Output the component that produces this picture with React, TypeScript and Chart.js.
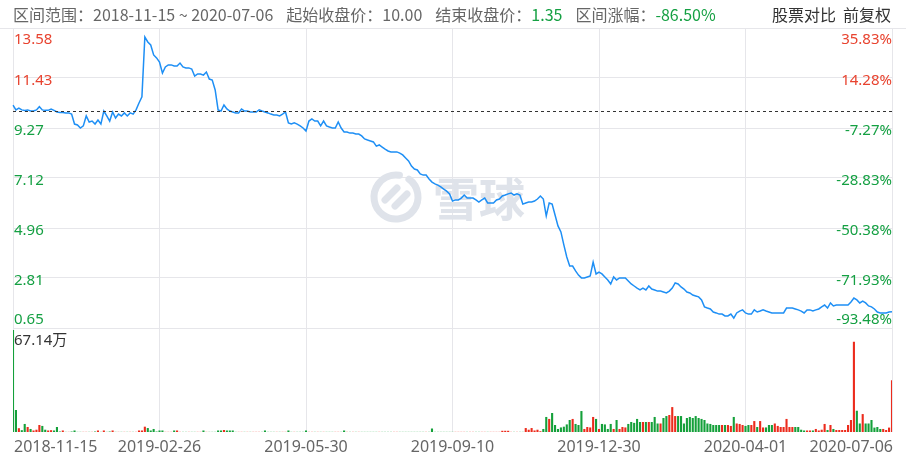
import React, { useEffect, useRef } from 'react';
import { Chart, registerables } from 'chart.js';

Chart.register(...registerables);

const tickDates = ['2018-11-15', '2019-02-26', '2019-05-30', '2019-09-10', '2019-12-30', '2020-04-01', '2020-07-06'];
const priceTickLabels = ['13.58', '11.43', '9.27', '7.12', '4.96', '2.81', '0.65'];
const pctTickLabels = ['35.83%', '14.28%', '-7.27%', '-28.83%', '-50.38%', '-71.93%', '-93.48%'];

const closePrices = [
  10.26, 10.05, 10.13, 10.05, 10.03, 10.05, 10.00, 10.00, 10.05, 10.19,
  10.05, 10.03, 10.03, 10.09, 10.03, 9.96, 9.94, 9.94, 9.92, 9.92,
  9.87, 9.44, 9.40, 9.27, 9.36, 9.79, 9.53, 9.57, 9.44, 9.61,
  9.44, 10.00, 9.79, 9.57, 9.96, 9.70, 9.87, 9.79, 9.92, 9.79,
  9.92, 9.87, 10.05, 10.35, 10.61, 13.19, 12.98, 12.85, 12.42, 12.29,
  12.11, 11.64, 11.90, 11.99, 11.99, 11.94, 11.94, 12.07, 11.90, 11.86,
  11.86, 11.81, 11.51, 11.60, 11.60, 11.55, 11.68, 11.38, 11.34, 10.91,
  10.05, 10.00, 10.26, 10.09, 10.00, 9.96, 9.92, 9.92, 10.09, 10.00,
  10.00, 9.96, 9.96, 9.96, 10.05, 10.00, 9.96, 9.92, 9.87, 9.83,
  9.83, 9.79, 9.87, 9.96, 9.49, 9.44, 9.49, 9.44, 9.36, 9.27,
  9.14, 9.57, 9.66, 9.57, 9.57, 9.36, 9.57, 9.36, 9.31, 9.27,
  9.27, 9.53, 9.27, 9.10, 9.10, 9.05, 9.05, 9.01, 9.01, 8.93,
  8.80, 8.75, 8.71, 8.67, 8.49, 8.54, 8.45, 8.36, 8.28, 8.24,
  8.24, 8.24, 8.19, 8.11, 7.98, 7.85, 7.63, 7.50, 7.46, 7.29,
  7.24, 7.24, 7.07, 6.94, 6.86, 6.81, 6.73, 6.64, 6.55, 6.43,
  6.12, 6.17, 6.17, 6.25, 6.38, 6.25, 6.25, 6.25, 6.17, 6.08,
  6.17, 6.25, 6.04, 6.04, 6.04, 6.17, 6.21, 6.34, 6.38, 6.43,
  6.47, 6.38, 6.43, 6.38, 5.99, 6.04, 6.08, 6.08, 6.12, 6.21,
  6.34, 6.21, 5.48, 6.04, 5.99, 5.52, 5.05, 4.79, 4.23, 3.71,
  3.32, 3.32, 3.11, 2.93, 2.81, 2.81, 2.85, 2.89, 3.49, 2.98,
  3.06, 2.98, 2.85, 2.72, 2.55, 2.85, 2.72, 2.81, 2.81, 2.81,
  2.68, 2.55, 2.46, 2.37, 2.29, 2.37, 2.29, 2.46, 2.33, 2.29,
  2.24, 2.24, 2.20, 2.16, 2.24, 2.37, 2.59, 2.55, 2.42, 2.33,
  2.20, 2.16, 2.07, 2.03, 1.99, 1.86, 1.56, 1.51, 1.47, 1.34,
  1.30, 1.25, 1.25, 1.17, 1.17, 1.25, 1.08, 1.30, 1.38, 1.43,
  1.30, 1.25, 1.25, 1.43, 1.34, 1.38, 1.43, 1.38, 1.34, 1.30,
  1.30, 1.30, 1.30, 1.30, 1.51, 1.51, 1.51, 1.47, 1.43, 1.38,
  1.30, 1.43, 1.43, 1.38, 1.43, 1.47, 1.56, 1.64, 1.51, 1.73,
  1.60, 1.64, 1.64, 1.64, 1.64, 1.64, 1.77, 1.94, 1.86, 1.73,
  1.81, 1.73, 1.60, 1.56, 1.47, 1.34, 1.30, 1.30, 1.30, 1.34,
  1.35,
];

// 成交量（万股）
const volumes = [
  67.14, 14.5, 2.5, 1.2, 5.3, 3.3, 2.0, 1.0, 1.5, 4.6,
  4.0, 1.5, 1.0, 1.2, 1.0, 3.3, 0.3, 1.0, 0.1, 0.1,
  0.3, 1.0, 0.1, 0.1, 0.1, 0.1, 0.1, 0.1, 0.3, 1.0,
  0.1, 1.0, 0.1, 0.3, 1.0, 0.1, 0.1, 0.1, 0.1, 0.1,
  0.1, 0.1, 0.1, 1.0, 1.0, 3.5, 2.6, 1.0, 2.0, 0.3,
  1.0, 1.0, 0.1, 0.1, 0.1, 1.0, 1.0, 0.1, 0.1, 0.1,
  0.1, 0.1, 0.1, 0.1, 0.1, 1.0, 0.1, 0.1, 0.1, 0.1,
  1.0, 1.0, 1.3, 1.0, 1.0, 1.0, 0.1, 0.1, 0.1, 0.1,
  0.1, 0.1, 0.1, 0.1, 0.1, 0.1, 1.0, 0.1, 0.1, 0.1,
  0.1, 0.1, 0.1, 0.1, 1.0, 0.1, 0.1, 0.1, 0.1, 0.1,
  1.0, 0.1, 0.1, 0.1, 0.1, 0.1, 0.1, 0.1, 0.1, 0.1,
  0.1, 0.1, 0.1, 1.0, 0.1, 0.1, 0.1, 0.1, 0.1, 0.1,
  0.1, 0.1, 0.1, 0.1, 0.1, 0.1, 0.1, 0.1, 0.1, 0.1,
  0.1, 0.1, 0.1, 0.1, 0.1, 0.1, 0.1, 0.1, 0.1, 0.1,
  0.1, 0.1, 0.1, 2.3, 0.1, 0.1, 0.1, 0.1, 0.1, 0.1,
  0.1, 0.1, 0.1, 0.1, 0.1, 0.1, 0.1, 0.1, 0.1, 0.1,
  0.1, 0.1, 0.1, 0.1, 0.1, 0.1, 0.1, 0.8, 0.8, 0.8,
  0.1, 0.1, 0.1, 0.1, 0.1, 2.6, 1.5, 2.6, 1.0, 1.5,
  0.5, 2.0, 9.9, 8.6, 12.5, 4.6, 2.0, 3.0, 3.5, 5.0,
  7.9, 8.6, 5.3, 4.6, 13.8, 2.0, 3.3, 3.0, 9.9, 8.6,
  2.0, 5.3, 5.0, 2.0, 5.3, 2.0, 7.9, 2.0, 3.3, 3.0,
  5.3, 6.6, 6.0, 8.6, 6.6, 6.6, 6.6, 6.6, 6.6, 9.9,
  5.6, 5.6, 9.2, 10.5, 11.2, 16.4, 10.5, 10.5, 10.5, 5.6,
  9.2, 9.9, 9.2, 10.5, 9.2, 8.6, 7.9, 5.6, 5.3, 4.6,
  4.6, 4.6, 4.6, 4.6, 4.6, 4.0, 9.9, 5.6, 5.3, 4.6,
  4.0, 4.6, 4.6, 7.2, 3.3, 7.2, 3.0, 3.0, 4.6, 4.6,
  5.6, 4.0, 3.3, 3.3, 8.6, 3.3, 3.3, 3.3, 3.3, 1.5,
  1.0, 1.0, 1.0, 1.0, 2.0, 1.0, 1.5, 5.3, 1.3, 4.6,
  2.0, 1.3, 1.3, 1.3, 1.3, 4.6, 7.9, 59.4, 14.0, 5.6,
  11.8, 5.6, 5.6, 7.9, 2.9, 3.3, 2.0, 2.0, 1.3, 2.9,
  34.0,
];

const rangeText = '2018-11-15 ~ 2020-07-06';
const startClose = 10.0;
const endClose = 1.35;
const rangeChange = '-86.50%';
const volumeMaxLabel = '67.14万';

const RED = '#e8432f';
const GREEN = '#15a043';
const UP_BAR = '#ec2b1c';
const DOWN_BAR = '#14a03a';
const GRID = '#e6e6ea';
const LINE = '#1e8ff5';
const FONT = "'Noto Sans', 'Noto Sans CJK SC', sans-serif";
const CJK = "'Noto Sans CJK SC', 'Noto Sans', sans-serif";

export default function App() {
  const ref = useRef<HTMLCanvasElement>(null);

  useEffect(() => {
    const canvas = ref.current;
    if (!canvas) return;
    const n = closePrices.length;
    const labels = closePrices.map((_, i) => String(i));
    const tickIdx = tickDates.map((_, i) => Math.round((i * (n - 1)) / (tickDates.length - 1)));
    const priceTicks = priceTickLabels.map(Number);
    const hi = Math.max(...priceTicks);
    const lo = Math.min(...priceTicks);
    const priceH = 300;
    const volH = 104;
    const priceMin = lo - ((hi - lo) * volH) / priceH;
    const vmax = Math.max(...volumes);
    const volMax = (vmax * (priceH + volH)) / 102;
    const barColors = volumes.map((_, i) =>
      i > 0 && closePrices[i] >= closePrices[i - 1] ? UP_BAR : DOWN_BAR
    );

    const overlay = {
      id: 'overlay',
      beforeDatasetsDraw(chart: any) {
        const { ctx } = chart;
        ctx.save();
        // 雪球 watermark
        ctx.strokeStyle = '#dfe3ea';
        ctx.fillStyle = '#dfe3ea';
        ctx.lineWidth = 7;
        ctx.lineCap = 'round';
        const cx = 396;
        const cy = 197;
        ctx.beginPath();
        ctx.arc(cx, cy, 22, -0.3 * Math.PI, 1.55 * Math.PI);
        ctx.stroke();
        ctx.beginPath();
        ctx.moveTo(cx - 11, cy + 3);
        ctx.lineTo(cx + 1, cy - 9);
        ctx.stroke();
        ctx.beginPath();
        ctx.moveTo(cx + 11, cy - 3);
        ctx.lineTo(cx - 1, cy + 9);
        ctx.stroke();
        ctx.font = `bold 46px ${CJK}`;
        ctx.textAlign = 'left';
        ctx.textBaseline = 'middle';
        ctx.fillText('雪球', 433, 199);
        ctx.restore();
      },
      afterDatasetsDraw(chart: any) {
        const { ctx, chartArea, scales } = chart;
        const ys = scales.y;
        const xs = scales.x;
        ctx.save();
        // header separator
        ctx.strokeStyle = GRID;
        ctx.lineWidth = 1;
        ctx.beginPath();
        ctx.moveTo(0, chartArea.top + 0.5);
        ctx.lineTo(906, chartArea.top + 0.5);
        ctx.stroke();
        // start close dashed line
        const dy = Math.round(ys.getPixelForValue(startClose)) + 0.5;
        ctx.strokeStyle = '#333';
        ctx.setLineDash([3, 3]);
        ctx.beginPath();
        ctx.moveTo(chartArea.left, dy);
        ctx.lineTo(chartArea.right, dy);
        ctx.stroke();
        ctx.setLineDash([]);

        // price / percent labels
        ctx.font = `15px ${FONT}`;
        ctx.textBaseline = 'middle';
        priceTickLabels.forEach((lab, i) => {
          const v = Number(lab);
          const py = ys.getPixelForValue(v);
          const off = i === 0 ? 12 : i === priceTickLabels.length - 1 ? -8 : 2.5;
          ctx.fillStyle = v >= startClose ? RED : GREEN;
          ctx.textAlign = 'left';
          ctx.fillText(lab, chartArea.left + 1, py + off);
          const pl = pctTickLabels[i];
          ctx.fillStyle = pl.startsWith('-') ? GREEN : RED;
          ctx.textAlign = 'right';
          ctx.fillText(pl, chartArea.right, py + off);
        });

        // volume max label
        ctx.fillStyle = '#333';
        ctx.textAlign = 'left';
        ctx.fillText(volumeMaxLabel, chartArea.left + 1, ys.getPixelForValue(lo) + 13);

        // x labels
        ctx.font = `16px ${FONT}`;
        ctx.fillStyle = '#666';
        tickDates.forEach((d, i) => {
          const px = xs.getPixelForValue(tickIdx[i]);
          ctx.textAlign = i === 0 ? 'left' : i === tickDates.length - 1 ? 'right' : 'center';
          ctx.fillText(d, i === 0 ? px + 1 : i === tickDates.length - 1 ? px + 1 : px, chartArea.bottom + 15);
        });

        // header
        ctx.font = `16px ${CJK}`;
        ctx.textAlign = 'left';
        const GRAY = '#666';
        let hx = 13;
        const hy = 15;
        const seg = (t: string, c: string) => {
          ctx.fillStyle = c;
          ctx.fillText(t, hx, hy);
          hx += ctx.measureText(t).width;
        };
        seg('区间范围：', GRAY);
        seg(rangeText, GRAY);
        hx += 13;
        seg('起始收盘价：', GRAY);
        seg(startClose.toFixed(2), GRAY);
        hx += 13;
        seg('结束收盘价：', GRAY);
        seg(endClose.toFixed(2), GREEN);
        hx += 13;
        seg('区间涨幅：', GRAY);
        seg(rangeChange, GREEN);
        ctx.fillStyle = '#333';
        ctx.textAlign = 'right';
        ctx.fillText('前复权', 891, hy);
        ctx.fillText('股票对比', 836, hy);
        ctx.restore();
      },
    };

    const chart = new Chart(canvas, {
      type: 'bar',
      data: {
        labels,
        datasets: [
          {
            type: 'line',
            data: closePrices,
            yAxisID: 'y',
            borderColor: LINE,
            borderWidth: 1.5,
            pointRadius: 0,
            tension: 0,
            fill: false,
            order: 1,
          } as any,
          {
            type: 'bar',
            data: volumes,
            yAxisID: 'yv',
            backgroundColor: barColors,
            barPercentage: 0.72,
            categoryPercentage: 1,
            order: 2,
          },
        ],
      },
      options: {
        responsive: false,
        animation: false,
        events: [],
        layout: { padding: { left: 13, right: 14, top: 28, bottom: 26 } },
        plugins: { legend: { display: false }, tooltip: { enabled: false } },
        scales: {
          x: {
            type: 'category',
            offset: false,
            grid: { offset: false, color: GRID, drawTicks: false },
            ticks: { display: false },
            border: { display: false },
            afterBuildTicks: (s: any) => {
              s.ticks = tickIdx.map((v) => ({ value: v }));
            },
          },
          y: {
            type: 'linear',
            position: 'left',
            min: priceMin,
            max: hi,
            grid: { color: GRID, drawTicks: false },
            ticks: { display: false },
            border: { display: false },
            afterBuildTicks: (s: any) => {
              s.ticks = priceTicks.map((v) => ({ value: v }));
            },
          },
          yv: {
            type: 'linear',
            position: 'right',
            display: false,
            min: 0,
            max: volMax,
          },
        },
      } as any,
      plugins: [overlay],
    });
    return () => chart.destroy();
  }, []);

  return (
    <div style={{ position: 'absolute', left: 0, top: 0, width: 906, height: 458, background: '#fff' }}>
      <canvas ref={ref} width={906} height={458} style={{ display: 'block' }} />
    </div>
  );
}
